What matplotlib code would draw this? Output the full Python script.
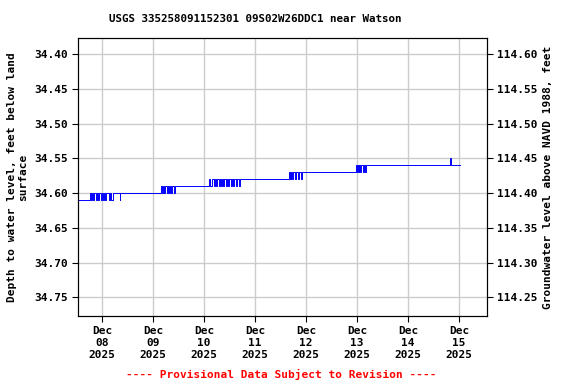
import matplotlib
matplotlib.use("Agg")
import matplotlib.pyplot as plt
import numpy as np

plt.rcParams['font.family'] = ['DejaVu Sans Mono']
plt.rcParams['font.weight'] = 'bold'

# hours since 2025-12-08 00:00 and depth to water (ft), step changes
hours = [-11.3, -5.6, -5.2, -4.8, -4.3, -3.5, -3.0, -2.4, -2.0, -1.6, -0.5, 0.0, 0.5, 1.0, 1.5,
         2.0, 3.5, 4.0, 4.5, 5.2, 8.3, 8.7,
         27.8, 28.3, 28.8, 29.2, 29.8, 30.5, 31.0, 31.6, 32.1, 32.7, 33.2, 33.9, 34.4,
         50.6, 51.0, 52.0, 52.5, 53.0, 53.8, 54.3, 55.0, 55.5, 56.2, 56.6, 57.2, 57.6, 58.3,
         58.7, 59.4, 59.8, 60.5, 61.0, 61.8, 62.2, 63.0, 63.5, 64.4, 64.9,
         87.9, 88.4, 88.9, 89.6, 90.1, 90.9, 91.4, 92.2, 92.7, 93.6, 94.0,
         119.5, 120.0, 120.3, 120.8, 121.1, 121.6, 121.9, 122.9, 123.3, 123.9, 124.2,
         163.6, 164.2, 168.5]
depth = [34.61, 34.60, 34.61, 34.60, 34.61, 34.60, 34.61, 34.60, 34.61, 34.60, 34.61, 34.60, 34.61, 34.60, 34.61,
         34.60, 34.61, 34.60, 34.61, 34.60, 34.61, 34.60,
         34.59, 34.60, 34.59, 34.60, 34.59, 34.60, 34.59, 34.60, 34.59, 34.60, 34.59, 34.60, 34.59,
         34.58, 34.59, 34.58, 34.59, 34.58, 34.59, 34.58, 34.59, 34.58, 34.59, 34.58, 34.59, 34.58, 34.59,
         34.58, 34.59, 34.58, 34.59, 34.58, 34.59, 34.58, 34.59, 34.58, 34.59, 34.58,
         34.57, 34.58, 34.57, 34.58, 34.57, 34.58, 34.57, 34.58, 34.57, 34.58, 34.57,
         34.56, 34.57, 34.56, 34.57, 34.56, 34.57, 34.56, 34.57, 34.56, 34.57, 34.56,
         34.55, 34.56, 34.56]

datum = 149.0  # land surface elevation, NAVD 1988
day_labels = ['Dec\n08\n2025', 'Dec\n09\n2025', 'Dec\n10\n2025', 'Dec\n11\n2025',
              'Dec\n12\n2025', 'Dec\n13\n2025', 'Dec\n14\n2025', 'Dec\n15\n2025']

base = np.datetime64('2025-12-08T00:00')
times = [base + np.timedelta64(int(round(h * 60)), 'm') for h in hours]
ticks = [base + np.timedelta64(d, 'D') for d in range(8)]

fig = plt.figure(figsize=(5.76, 3.84), dpi=100)
ax = fig.add_axes([0.1354, 0.177, 0.7101, 0.724])
ax.plot(times, depth, color='#0000ff', lw=0.7, drawstyle='steps-post')

ax.set_ylim(34.777, 34.377)
ax.set_yticks([34.40, 34.45, 34.50, 34.55, 34.60, 34.65, 34.70, 34.75])
ax.yaxis.set_major_formatter(plt.FormatStrFormatter('%.2f'))
ax.set_xlim(base - np.timedelta64(int(0.47 * 1440), 'm'), base + np.timedelta64(int(7.55 * 1440), 'm'))
ax.set_xticks(ticks)
ax.set_xticklabels(day_labels)
ax.grid(True, color='#cccccc', lw=1)
ax.tick_params(labelsize=8, length=4)
ax.set_ylabel('Depth to water level, feet below land\nsurface', fontsize=8, fontweight='bold')

ax2 = ax.twinx()
ax2.set_ylim(datum - 34.777, datum - 34.377)
ax2.set_yticks([114.25, 114.30, 114.35, 114.40, 114.45, 114.50, 114.55, 114.60])
ax2.yaxis.set_major_formatter(plt.FormatStrFormatter('%.2f'))
ax2.tick_params(labelsize=8, length=4)
ax2.set_ylabel('Groundwater level above NAVD 1988, feet', fontsize=8, fontweight='bold')

fig.text(0.443, 0.95, 'USGS 335258091152301 09S02W26DDC1 near Watson', ha='center', va='center',
         fontsize=7.8, fontweight='bold')
fig.text(0.488, 0.025, '---- Provisional Data Subject to Revision ----', color='red',
         ha='center', va='center', fontsize=8, fontweight='bold')

fig.savefig('out.png', dpi=100)
